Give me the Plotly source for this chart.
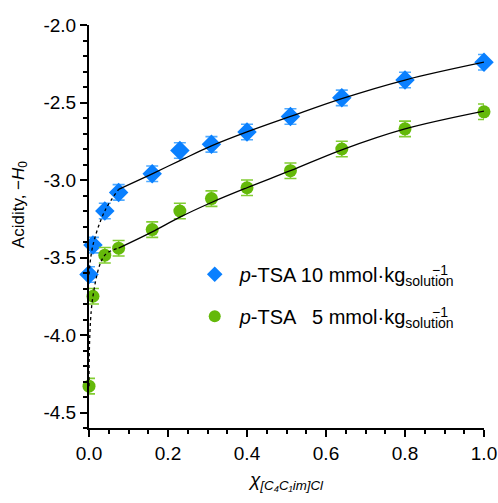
import plotly.graph_objects as go

# ---- data ----
x_10 = [0.0, 0.01, 0.04, 0.075, 0.16, 0.23, 0.31, 0.40, 0.51, 0.64, 0.80, 1.0]
y_10 = [-3.61, -3.42, -3.20, -3.08, -2.96, -2.81, -2.77, -2.69, -2.59, -2.47, -2.355, -2.24]
x_5 = [0.0, 0.01, 0.04, 0.075, 0.16, 0.23, 0.31, 0.40, 0.51, 0.64, 0.80, 1.0]
y_5 = [-4.33, -3.75, -3.485, -3.44, -3.32, -3.20, -3.12, -3.05, -2.94, -2.80, -2.67, -2.56]
err = 0.05

fit_x = [0.075, 0.16, 0.23, 0.31, 0.40, 0.51, 0.64, 0.80, 1.0]
fit_10 = [-3.06, -2.96, -2.875, -2.78, -2.69, -2.59, -2.475, -2.355, -2.24]
fit_5 = [-3.44, -3.335, -3.24, -3.145, -3.05, -2.94, -2.805, -2.67, -2.555]

dot_x = [0.0, 0.01, 0.04, 0.075]
dot_10 = [-3.61, -3.42, -3.20, -3.06]
dot_5 = [-4.33, -3.75, -3.485, -3.44]

y_ticks = [-4.5, -4.0, -3.5, -3.0, -2.5, -2.0]
y_ticktext = ["-4.5", "-4.0", "-3.5", "-3.0", "-2.5", "-2.0"]
x_ticks = [0.0, 0.2, 0.4, 0.6, 0.8, 1.0]
x_ticktext = ["0.0", "0.2", "0.4", "0.6", "0.8", "1.0"]

name_10 = "<i>p</i>-TSA 10 mmol·kg<sub>solution</sub>"
name_5 = "<i>p</i>-TSA   5 mmol·kg<sub>solution</sub>"
unit_sup = "−1"

BLUE = "rgb(10,128,255)"
BLUE_E = "rgb(80,170,255)"
GREEN = "rgb(100,185,10)"
GREEN_E = "rgb(130,205,50)"
FONT = "Liberation Sans, Arial, sans-serif"

fig = go.Figure()
fig.add_trace(go.Scatter(
    x=x_10, y=y_10, mode="markers", name=name_10, legendgroup="a",
    marker=dict(symbol="diamond", size=15, color=BLUE),
    error_y=dict(type="constant", value=err, color=BLUE_E, thickness=1.6, width=6),
    cliponaxis=False))
fig.add_trace(go.Scatter(
    x=x_5, y=y_5, mode="markers", name=name_5, legendgroup="b",
    marker=dict(symbol="circle", size=13, color=GREEN),
    error_y=dict(type="constant", value=err, color=GREEN_E, thickness=1.6, width=6),
    cliponaxis=False))
for yy in (fit_10, fit_5):
    fig.add_trace(go.Scatter(x=fit_x, y=yy, mode="lines", showlegend=False,
                             line=dict(color="black", width=1.3, shape="spline"),
                             cliponaxis=False, hoverinfo="skip"))
for yy in (dot_10, dot_5):
    fig.add_trace(go.Scatter(x=dot_x, y=yy, mode="lines", showlegend=False,
                             line=dict(color="black", width=1.3, dash="dot", shape="spline"),
                             cliponaxis=False, hoverinfo="skip"))

axis_common = dict(
    showline=True, linecolor="black", linewidth=2, ticks="outside", ticklen=7,
    tickwidth=2, tickcolor="black", showgrid=False, zeroline=False, automargin=False,
    tickfont=dict(family=FONT, size=19, color="black"),
)
fig.update_xaxes(
    range=[0, 1.0], tickvals=x_ticks, ticktext=x_ticktext,
    minor=dict(dtick=0.05, ticks="outside", ticklen=4, tickwidth=1.5, tickcolor="black"),
    title=dict(text="<i>χ</i><sub><i>[C₄C₁im]Cl</i></sub>",
               font=dict(family=FONT, size=19, color="black"), standoff=10),
    **axis_common)
fig.update_yaxes(
    range=[-4.6, -2.0], tickvals=y_ticks, ticktext=y_ticktext,
    minor=dict(dtick=0.1, ticks="outside", ticklen=4, tickwidth=1.5, tickcolor="black"),
    **axis_common)

# y-axis title (placed slightly above the axis centre, as in the reference)
fig.add_annotation(text="Acidity, −<i>H</i><sub>0</sub>", textangle=-90,
                   xref="paper", yref="paper", x=0, y=0.553, xshift=-69,
                   xanchor="center", yanchor="middle", showarrow=False,
                   font=dict(family=FONT, size=17, color="black"))
# stacked superscripts of the legend units
for yp in (0.392, 0.288):
    fig.add_annotation(text=unit_sup, xref="paper", yref="paper", x=0.863, y=yp,
                       xanchor="left", yanchor="middle", showarrow=False,
                       font=dict(family=FONT, size=14, color="black"))

fig.update_layout(
    width=498, height=503,
    margin=dict(l=89, r=14, t=25, b=75),
    paper_bgcolor="white", plot_bgcolor="white",
    showlegend=True,
    legend=dict(x=0.255, y=0.43, xanchor="left", yanchor="top",
                font=dict(family=FONT, size=20, color="black"),
                bgcolor="rgba(0,0,0,0)", traceorder="grouped", tracegroupgap=13,
                itemsizing="constant", itemwidth=40),
)
fig.write_html("out.html", config={"displayModeBar": False},
               post_script="document.body.style.margin='0px';document.body.style.overflow='hidden';")
